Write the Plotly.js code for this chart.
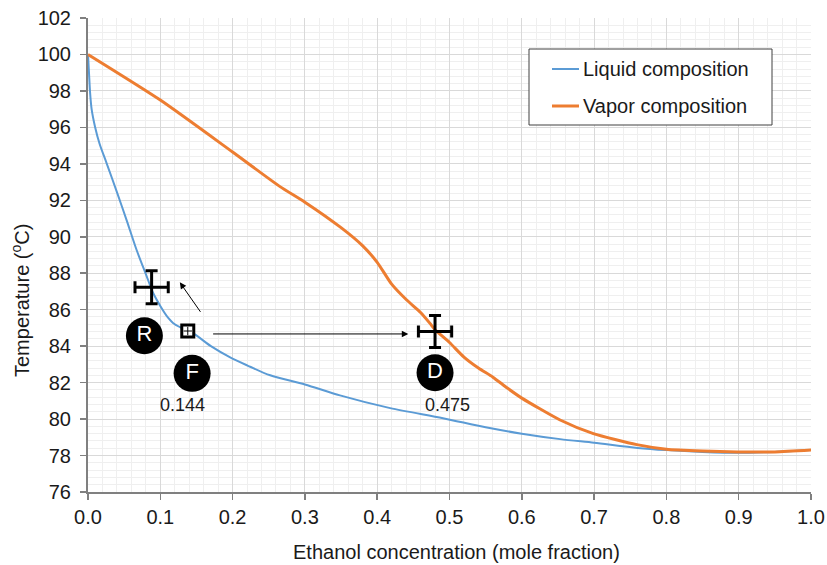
<!DOCTYPE html>
<html>
<head>
<meta charset="utf-8">
<script src="https://cdn.plot.ly/plotly-3.0.1.min.js"></script>
<style>
html,body{margin:0;padding:0;background:#fff;}
#chart{width:827px;height:565px;}
</style>
</head>
<body>
<div id="chart"></div>
<script>
// ---- data ----
const liquidX = [0, 0.0015, 0.0028, 0.005, 0.0097, 0.016, 0.0258, 0.04, 0.0535, 0.067, 0.08, 0.0903, 0.1, 0.109, 0.12, 0.1457, 0.17, 0.196, 0.22, 0.252, 0.3, 0.3485, 0.418, 0.491, 0.55, 0.6, 0.653, 0.7, 0.76, 0.8, 0.85, 0.9, 0.95, 1.0];
const liquidT = [100, 98.9, 97.96, 97.0, 96.04, 95.1, 94.03, 92.45, 90.9, 89.3, 87.95, 86.9, 86.2, 85.65, 85.2, 84.7, 84.0, 83.4, 82.95, 82.4, 81.9, 81.3, 80.6, 80.05, 79.55, 79.2, 78.9, 78.7, 78.42, 78.3, 78.2, 78.15, 78.2, 78.3];

const vaporX = [0, 0.1, 0.2, 0.2656, 0.3, 0.35, 0.38, 0.4, 0.42, 0.4408, 0.46, 0.473, 0.48, 0.5, 0.52, 0.54, 0.56, 0.58, 0.6, 0.653, 0.699, 0.759, 0.8, 0.85, 0.898, 0.95, 1.0];
const vaporT = [100, 97.5, 94.65, 92.75, 91.9, 90.5, 89.5, 88.6, 87.4, 86.53, 85.85, 85.25, 84.9, 84.2, 83.4, 82.8, 82.3, 81.7, 81.15, 79.95, 79.2, 78.6, 78.35, 78.25, 78.2, 78.2, 78.3];

const seriesNames = ['Liquid composition', 'Vapor composition'];
const xTitle = 'Ethanol concentration (mole fraction)';
const yTitle = 'Temperature (<sup>o</sup>C)';

// points with error crosses (R and D) and the feed point F
const crossX = [0.088, 0.48];
const crossT = [87.23, 84.8];
const crossErrX = [0.023, 0.023];
const crossErrT = [0.9, 0.88];
const feedX = [0.138];
const feedT = [84.83];

const pointNames = ['R', 'F', 'D'];
const compLabels = ['0.144', '0.475'];

const xTickVals = [0, 0.1, 0.2, 0.3, 0.4, 0.5, 0.6, 0.7, 0.8, 0.9, 1.0];
const yTickVals = [76, 78, 80, 82, 84, 86, 88, 90, 92, 94, 96, 98, 100, 102];

const BLUE = '#5B9BD5';
const ORANGE = '#ED7D31';
const FONT = 'Liberation Sans, Arial, sans-serif';
const TXT = '#1a1a1a';

const traces = [
  {x: liquidX, y: liquidT, mode: 'lines', name: seriesNames[0], line: {color: BLUE, width: 2, shape: 'spline', smoothing: 0.8}, showlegend: false},
  {x: vaporX, y: vaporT, mode: 'lines', name: seriesNames[1], line: {color: ORANGE, width: 3, shape: 'spline', smoothing: 0.6}, showlegend: false},
  {x: crossX, y: crossT, mode: 'markers', marker: {size: 1, color: 'black'}, showlegend: false, hoverinfo: 'skip',
   error_x: {type: 'data', array: crossErrX, visible: true, color: 'black', thickness: 3, width: 6},
   error_y: {type: 'data', array: crossErrT, visible: true, color: 'black', thickness: 3, width: 6}},
  {x: feedX, y: feedT, mode: 'markers', showlegend: false, hoverinfo: 'skip',
   marker: {symbol: 'square', size: 12, color: 'white', line: {color: 'black', width: 3}}},
  {x: feedX, y: feedT, mode: 'markers', showlegend: false, hoverinfo: 'skip',
   marker: {symbol: 'cross-thin', size: 6, line: {color: 'black', width: 1}}},
  {x: [0.078, 0.144, 0.48], y: [84.57, 82.51, 82.54], mode: 'markers+text', text: pointNames,
   textposition: 'middle center', textfont: {family: FONT, size: 22, color: 'white'},
   marker: {size: 37, color: 'black'}, showlegend: false, hoverinfo: 'skip'}
];

// plot-area pixel helpers for the hand-drawn legend and titles
const PL = 88, PT = 18, PW = 723, PH = 474;
const px = v => (v - PL) / PW;
const py = v => 1 - (v - PT) / PH;

const layout = {
  width: 827, height: 565,
  margin: {l: PL, r: 827 - PL - PW, t: PT, b: 565 - PT - PH},
  paper_bgcolor: 'white', plot_bgcolor: 'white',
  font: {family: FONT, size: 20, color: TXT},
  showlegend: false,
  xaxis: {
    range: [0, 1], tickvals: xTickVals, tickformat: '.1f',
    showgrid: true, gridcolor: '#d9d9d9', gridwidth: 1,
    minor: {dtick: 0.02, showgrid: true, gridcolor: '#efefef', gridwidth: 1},
    showline: true, linecolor: '#808080', linewidth: 2,
    ticks: 'outside', ticklen: 6, tickcolor: '#808080', tickwidth: 1.5,
    zeroline: false, tickfont: {size: 20, color: TXT}
  },
  yaxis: {
    range: [76, 102], tickvals: yTickVals,
    showgrid: true, gridcolor: '#d9d9d9', gridwidth: 1,
    minor: {dtick: 0.4, showgrid: true, gridcolor: '#efefef', gridwidth: 1},
    showline: true, linecolor: '#808080', linewidth: 2,
    ticks: 'outside', ticklen: 6, tickcolor: '#808080', tickwidth: 1.5,
    ticklabelstandoff: 5,
    zeroline: false, tickfont: {size: 20, color: TXT}
  },
  shapes: [
    {type: 'rect', xref: 'paper', yref: 'paper', x0: px(529), x1: px(772), y0: py(125), y1: py(49),
     line: {color: '#404040', width: 1}, fillcolor: 'white', layer: 'above'},
    {type: 'line', xref: 'paper', yref: 'paper', x0: px(552), x1: px(579), y0: py(69), y1: py(69),
     line: {color: BLUE, width: 2}, layer: 'above'},
    {type: 'line', xref: 'paper', yref: 'paper', x0: px(552), x1: px(579), y0: py(106), y1: py(106),
     line: {color: ORANGE, width: 3}, layer: 'above'}
  ],
  annotations: [
    {xref: 'paper', yref: 'paper', x: px(456.5), y: py(552), xanchor: 'center', yanchor: 'middle',
     text: xTitle, showarrow: false, font: {size: 20, color: TXT}},
    {xref: 'paper', yref: 'paper', x: px(20), y: py(301), xanchor: 'center', yanchor: 'middle',
     text: yTitle, textangle: -90, showarrow: false, font: {size: 20, color: TXT}},
    {xref: 'paper', yref: 'paper', x: px(581), y: py(69), xanchor: 'left', yanchor: 'middle',
     text: seriesNames[0], showarrow: false, font: {size: 20, color: TXT}},
    {xref: 'paper', yref: 'paper', x: px(581), y: py(106), xanchor: 'left', yanchor: 'middle',
     text: seriesNames[1], showarrow: false, font: {size: 20, color: TXT}},
    {x: 0.127, y: 87.5, ax: 0.157, ay: 85.8, xref: 'x', yref: 'y', axref: 'x', ayref: 'y',
     text: '', showarrow: true, arrowhead: 2, arrowsize: 1.3, arrowwidth: 1, arrowcolor: 'black'},
    {x: 0.443, y: 84.67, ax: 0.171, ay: 84.67, xref: 'x', yref: 'y', axref: 'x', ayref: 'y',
     text: '', showarrow: true, arrowhead: 2, arrowsize: 1.3, arrowwidth: 1, arrowcolor: 'black'},
    {x: 0.131, y: 80.77, xref: 'x', yref: 'y', text: compLabels[0], showarrow: false, font: {size: 18, color: TXT}},
    {x: 0.497, y: 80.77, xref: 'x', yref: 'y', text: compLabels[1], showarrow: false, font: {size: 18, color: TXT}}
  ]
};

Plotly.newPlot('chart', traces, layout, {displayModeBar: false, staticPlot: true});
</script>
</body>
</html>
